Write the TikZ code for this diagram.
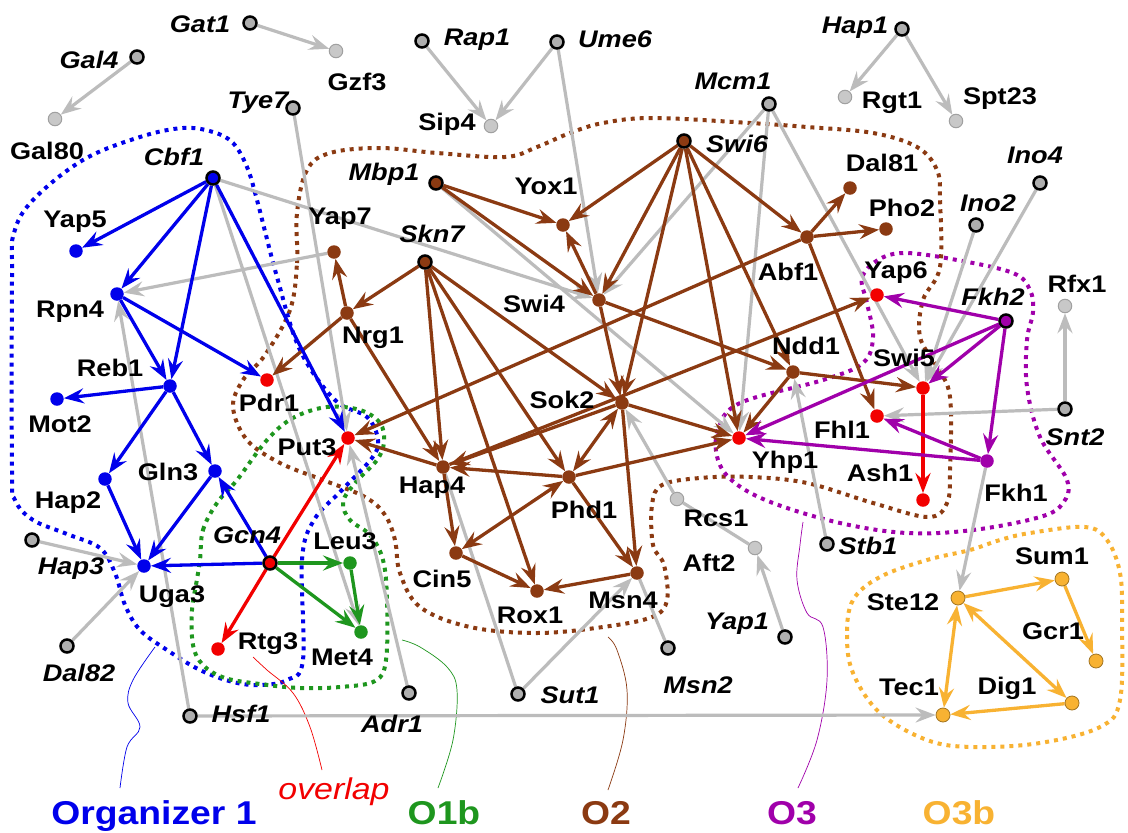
\documentclass[tikz,border=0pt]{standalone}
\usepackage{fontspec}
\setmainfont{Liberation Sans}[FakeStretch=1.13]
\usetikzlibrary{arrows.meta}
\definecolor{cblue}{RGB}{0,0,235}
\definecolor{cbrown}{RGB}{139,58,18}
\definecolor{cred}{RGB}{242,0,0}
\definecolor{cgreen}{RGB}{30,150,30}
\definecolor{cpurple}{RGB}{160,0,170}
\definecolor{corange}{RGB}{248,178,50}
\definecolor{cgray}{RGB}{188,188,188}
\definecolor{cgfill}{RGB}{175,175,175}
\definecolor{ctfill}{RGB}{200,200,200}
\definecolor{ctdraw}{RGB}{160,160,160}
\pgfdeclarelayer{bg}
\pgfdeclarelayer{edges}
\pgfsetlayers{bg,edges,main}
\tikzset{
  reg/.style={circle, draw=black, line width=2.5pt, minimum size=13pt, inner sep=0pt},
  tg/.style={circle, minimum size=13.5pt, inner sep=0pt},
  greg/.style={reg, fill=cgfill},
  gtg/.style={tg, fill=ctfill, draw=ctdraw, line width=1pt},
  btg/.style={tg, fill=cblue},
  rtg/.style={tg, fill=cred},
  ntg/.style={tg, fill=cbrown},
  gntg/.style={tg, fill=cgreen},
  ptg/.style={tg, fill=cpurple},
  otg/.style={tg, fill=corange, draw=corange!65!black, line width=0.8pt, minimum size=14pt},
  lab/.style={font=\fontsize{24}{24}\selectfont\bfseries, inner sep=0pt, text height=17pt, text depth=0pt, anchor=center},
  ilab/.style={lab, font=\fontsize{24}{24}\selectfont\bfseries\itshape},
  leg/.style={font=\fontsize{33}{33}\selectfont\bfseries, inner sep=0pt, text height=24pt, text depth=0pt, anchor=center},
  ge/.style={draw=cgray, line width=3.2pt, ->},
  gl/.style={draw=cgray, line width=3.2pt},
  be/.style={draw=cblue, line width=3.3pt, ->},
  re/.style={draw=cred, line width=3.3pt, ->},
  ne/.style={draw=cbrown, line width=3.3pt, ->},
  gre/.style={draw=cgreen, line width=3.3pt, ->},
  pe/.style={draw=cpurple, line width=3.3pt, ->},
  oe/.style={draw=corange, line width=3.3pt, ->},
  oe2/.style={draw=corange, line width=3.3pt, <->},
  grp/.style={line width=4pt, dash pattern=on 4pt off 5pt},
  ptr/.style={line width=0.7pt},
}
\begin{document}
\begin{tikzpicture}[x=1pt,y=-1pt, >={Stealth[length=20pt,width=15pt,inset=7pt]}]
\useasboundingbox (0,0) rectangle (1128,833);
\begin{pgfonlayer}{bg}
\fill[white] (0,0) rectangle (1128,833);
\end{pgfonlayer}

% ---------- nodes ----------
% gray regulators
\node[greg] (Gat1) at (250,23) {};
\node[greg] (Gal4) at (137,57) {};
\node[greg] (Tye7) at (293,108) {};
\node[greg] (Rap1) at (422,41) {};
\node[greg] (Ume6) at (557,42) {};
\node[greg] (Mcm1) at (769,104) {};
\node[greg] (Hap1) at (902,29) {};
\node[greg] (Ino4) at (1040,183) {};
\node[greg] (Ino2) at (976,225) {};
\node[greg] (Snt2) at (1065,409) {};
\node[greg] (Stb1) at (827,544) {};
\node[greg] (Yap1) at (785,637) {};
\node[greg] (Msn2) at (668,648) {};
\node[greg] (Sut1) at (518,694) {};
\node[greg] (Adr1) at (409,693) {};
\node[greg] (Hsf1) at (190,716) {};
\node[greg] (Dal82) at (67,646) {};
\node[greg] (Hap3) at (32,540) {};
% gray targets
\node[gtg] (Gzf3) at (336,51) {};
\node[gtg] (Gal80) at (55,119) {};
\node[gtg] (Sip4) at (491,126) {};
\node[gtg] (Rgt1) at (845,97) {};
\node[gtg] (Spt23) at (956,121) {};
\node[gtg] (Rfx1) at (1065,306) {};
\node[gtg] (Rcs1) at (677,499) {};
\node[gtg] (Aft2) at (755,548) {};
% blue
\node[reg, fill=cblue] (Cbf1) at (213,178) {};
\node[btg] (Yap5) at (76,251) {};
\node[btg] (Rpn4) at (117,294) {};
\node[btg] (Reb1) at (170,386) {};
\node[btg] (Mot2) at (57,399) {};
\node[btg] (Gln3) at (215,471) {};
\node[btg] (Hap2) at (105,479) {};
\node[btg] (Uga3) at (144,566) {};
% red
\node[reg, fill=cred] (Gcn4) at (270,563) {};
\node[rtg] (Pdr1) at (267,380) {};
\node[rtg] (Put3) at (348,438) {};
\node[rtg] (Rtg3) at (218,649) {};
\node[rtg] (Yap6) at (877,295) {};
\node[rtg] (Swi5) at (923,388) {};
\node[rtg] (Fhl1) at (877,416) {};
\node[rtg] (Ash1) at (923,500) {};
\node[rtg] (Yhp1) at (739,438) {};
% green
\node[gntg] (Leu3) at (350,563) {};
\node[gntg] (Met4) at (361,632) {};
% brown
\node[reg, fill=cbrown] (Mbp1) at (436,183) {};
\node[reg, fill=cbrown] (Swi6) at (684,141) {};
\node[reg, fill=cbrown] (Skn7) at (425,262) {};
\node[ntg] (Yap7) at (334,252) {};
\node[ntg] (Yox1) at (563,225) {};
\node[ntg] (Dal81) at (850,188) {};
\node[ntg] (Pho2) at (886,229) {};
\node[ntg] (Abf1) at (807,237) {};
\node[ntg] (Swi4) at (599,300) {};
\node[ntg] (Nrg1) at (347,313) {};
\node[ntg] (Ndd1) at (793,372) {};
\node[ntg] (Sok2) at (622,403) {};
\node[ntg] (Hap4) at (443,467) {};
\node[ntg] (Phd1) at (569,477) {};
\node[ntg] (Cin5) at (456,553) {};
\node[ntg] (Rox1) at (537,591) {};
\node[ntg] (Msn4) at (637,573) {};
% purple
\node[reg, fill=cpurple] (Fkh2) at (1006,321) {};
\node[ptg] (Fkh1) at (987,461) {};
% orange
\node[otg] (Ste12) at (958,598) {};
\node[otg] (Sum1) at (1062,579) {};
\node[otg] (Gcr1) at (1096,661) {};
\node[otg] (Tec1) at (943,715) {};
\node[otg] (Dig1) at (1072,703) {};

% ---------- labels ----------
\node[ilab] (lGat1) at (200,24) {Gat1};
\node[ilab] (lGal4) at (89,60) {Gal4};
\node[ilab] (lTye7) at (258,100) {Tye7};
\node[ilab] (lCbf1) at (174,157) {Cbf1};
\node[ilab] (lRap1) at (477,37) {Rap1};
\node[ilab] (lUme6) at (615,39) {Ume6};
\node[ilab] (lMcm1) at (733,81) {Mcm1};
\node[ilab] (lHap1) at (855,25) {Hap1};
\node[ilab] (lMbp1) at (384,172) {Mbp1};
\node[ilab] (lSwi6) at (737,144) {Swi6};
\node[ilab] (lSkn7) at (432,234) {Skn7};
\node[ilab] (lIno4) at (1035,155) {Ino4};
\node[ilab] (lIno2) at (988,203) {Ino2};
\node[ilab] (lFkh2) at (993,297) {Fkh2};
\node[ilab] (lSnt2) at (1075,437) {Snt2};
\node[ilab] (lStb1) at (868,546) {Stb1};
\node[ilab] (lYap1) at (737,621) {Yap1};
\node[ilab] (lMsn2) at (698,685) {Msn2};
\node[ilab] (lSut1) at (570,695) {Sut1};
\node[ilab] (lAdr1) at (392,724) {Adr1};
\node[ilab] (lHsf1) at (241,714) {Hsf1};
\node[ilab] (lDal82) at (79,673) {Dal82};
\node[ilab] (lHap3) at (71,566) {Hap3};
\node[ilab] (lGcn4) at (247,535) {Gcn4};
\node[lab] (lGzf3) at (357,82) {Gzf3};
\node[lab] (lGal80) at (47,151) {Gal80};
\node[lab] (lSip4) at (447,122) {Sip4};
\node[lab] (lRgt1) at (892,100) {Rgt1};
\node[lab] (lSpt23) at (1000,96) {Spt23};
\node[lab] (lDal81) at (882,163) {Dal81};
\node[lab] (lPho2) at (902,208) {Pho2};
\node[lab] (lYap7) at (340,216) {Yap7};
\node[lab] (lYox1) at (546,186) {Yox1};
\node[lab] (lYap5) at (75,219) {Yap5};
\node[lab] (lRpn4) at (70,309) {Rpn4};
\node[lab] (lReb1) at (110,368) {Reb1};
\node[lab] (lMot2) at (60,424) {Mot2};
\node[lab] (lGln3) at (168,472) {Gln3};
\node[lab] (lHap2) at (68,500) {Hap2};
\node[lab] (lUga3) at (172,594) {Uga3};
\node[lab] (lPdr1) at (269,403) {Pdr1};
\node[lab] (lPut3) at (307,447) {Put3};
\node[lab] (lNrg1) at (373,335) {Nrg1};
\node[lab] (lSwi4) at (534,304) {Swi4};
\node[lab] (lAbf1) at (788,272) {Abf1};
\node[lab] (lSok2) at (562,400) {Sok2};
\node[lab] (lHap4) at (432,485) {Hap4};
\node[lab] (lPhd1) at (584,510) {Phd1};
\node[lab] (lNdd1) at (806,346) {Ndd1};
\node[lab] (lYap6) at (896,270) {Yap6};
\node[lab] (lRfx1) at (1077,284) {Rfx1};
\node[lab] (lSwi5) at (904,358) {Swi5};
\node[lab] (lFhl1) at (842,430) {Fhl1};
\node[lab] (lYhp1) at (785,460) {Yhp1};
\node[lab] (lAsh1) at (880,473) {Ash1};
\node[lab] (lFkh1) at (1016,493) {Fkh1};
\node[lab] (lRcs1) at (716,518) {Rcs1};
\node[lab] (lAft2) at (709,563) {Aft2};
\node[lab] (lCin5) at (442,579) {Cin5};
\node[lab] (lRox1) at (530,615) {Rox1};
\node[lab] (lMsn4) at (623,600) {Msn4};
\node[lab] (lLeu3) at (345,541) {Leu3};
\node[lab] (lMet4) at (342,657) {Met4};
\node[lab] (lRtg3) at (268,641) {Rtg3};
\node[lab] (lSte12) at (903,602) {Ste12};
\node[lab] (lSum1) at (1052,556) {Sum1};
\node[lab] (lGcr1) at (1053,631) {Gcr1};
\node[lab] (lTec1) at (909,687) {Tec1};
\node[lab] (lDig1) at (1007,686) {Dig1};

% legend
\node[leg, text=cblue] (legO1) at (154,812) {Organizer 1};
\node[inner sep=0pt, text height=21pt, text depth=0pt, text=cred, font=\fontsize{30}{30}\selectfont\itshape] (legOv) at (334,789) {overlap};
\node[leg, text=cgreen] (legO1b) at (444,812) {O1b};
\node[leg, text=cbrown] (legO2) at (606,812) {O2};
\node[leg, text=cpurple] (legO3) at (792,812) {O3};
\node[leg, text=corange] (legO3b) at (959,812) {O3b};

% ---------- group outlines ----------
\begin{pgfonlayer}{bg}
\draw[grp, cbrown] plot[smooth cycle, tension=0.6] coordinates {
 (290,310) (297,263) (297,213) (307,170) (330,153) (380,148) (437,153) (505,157)
 (537,147) (570,133) (603,123) (653,118) (750,123) (807,127) (873,133) (917,147)
 (937,170) (940,200) (940,267) (923,300) (920,337) (937,367) (950,397) (950,470)
 (947,503) (928,517) (873,503) (807,483) (750,477) (700,478) (662,485) (652,505)
 (653,545) (664,565) (667,600) (652,617) (603,627) (537,633) (470,627) (420,607)
 (400,573) (395,540) (385,515) (365,497) (323,480) (280,463) (247,440) (233,407)
 (243,380) (265,355)};
\draw[grp, cblue] plot[smooth cycle, tension=0.6] coordinates {
 (12,470) (12,277) (14,233) (33,200) (83,160) (140,137) (183,128) (213,132)
 (233,143) (247,167) (257,200) (277,277) (300,350) (335,400) (367,417) (378,440)
 (372,458) (342,490) (314,520) (302,560) (303,660) (287,680) (260,685) (233,682)
 (200,670) (167,650) (140,630) (125,605) (115,573) (100,548) (67,534) (33,520) (15,500)};
\draw[grp, cgreen] plot[smooth cycle, tension=0.6] coordinates {
 (200,560) (203,530) (217,503) (237,480) (267,440) (293,418) (327,407) (360,410)
 (380,423) (384,442) (377,460) (356,482) (343,502) (350,520) (370,535) (383,560)
 (387,600) (386,660) (375,681) (340,687) (300,688) (260,684) (225,678) (203,665)
 (193,645) (192,610) (196,585)};
\draw[grp, cpurple] plot[smooth cycle, tension=0.6] coordinates {
 (740,403) (823,380) (863,363) (873,337) (867,303) (862,278) (878,260) (905,253)
 (957,260) (1013,273) (1030,290) (1033,312) (1027,340) (1027,387) (1040,437)
 (1067,480) (1063,503) (1040,517) (973,530) (907,533) (840,523) (773,503)
 (735,483) (718,460) (718,430)};
\draw[grp, corange] plot[smooth cycle, tension=0.6] coordinates {
 (853,600) (847,635) (853,673) (880,713) (927,740) (973,747) (1040,743)
 (1100,727) (1120,700) (1122,620) (1120,573) (1107,540) (1085,527) (1030,533)
 (1000,540) (970,550) (927,560) (880,577)};
% pointers
\draw[ptr, cblue] plot[smooth, tension=0.6] coordinates {(120,788) (127,747) (140,727) (128,703) (133,680) (155,647)};
\draw[ptr, cred] plot[smooth, tension=0.6] coordinates {(322,770) (310,727) (293,693) (267,670) (253,657)};
\draw[ptr, cgreen] plot[smooth, tension=0.6] coordinates {(438,788) (453,740) (457,690) (447,667) (420,647) (402,640)};
\draw[ptr, cbrown] plot[smooth, tension=0.6] coordinates {(608,790) (623,740) (627,690) (617,650) (608,637)};
\draw[ptr, cpurple] plot[smooth, tension=0.6] coordinates {(798,788) (817,740) (827,680) (823,627) (807,613) (797,580) (800,545) (803,522)};
\end{pgfonlayer}

% ---------- edges ----------
\begin{pgfonlayer}{edges}
% gray
\draw[ge] (Gat1) -- (Gzf3);
\draw[ge] (Gal4) -- (Gal80);
\draw[ge] (Rap1) -- (Sip4);
\draw[ge] (Ume6) -- (Sip4);
\draw[ge] (Ume6) -- (Swi4);
\draw[ge] (Hap1) -- (Rgt1);
\draw[ge] (Hap1) -- (Spt23);
\draw[ge] (Tye7) -- (Put3);
\draw[ge] (Cbf1) -- (Swi4);
\draw[ge] (Cbf1) -- (Met4);
\draw[ge] (Yap7) -- (Rpn4);
\draw[ge] (Hsf1) -- (Rpn4);
\draw[ge] (Hsf1) -- (Tec1);
\draw[ge] (Hap3) -- (Uga3);
\draw[ge] (Dal82) -- (Uga3);
\draw[ge] (Adr1) -- (Put3);
\draw[gl] (Sut1) -- (Hap4);
\draw[ge] (Sut1) -- (Msn4);
\draw[gl] (Msn2) -- (Msn4);
\draw[ge] (Rcs1) -- (Sok2);
\draw[gl] (Rcs1) -- (Aft2);
\draw[ge] (Yap1) -- (Aft2);
\draw[ge] (Mbp1) -- (Yhp1);
\draw[ge] (Mcm1) -- (Swi4);
\draw[ge] (Mcm1) -- (Yhp1);
\draw[ge] (Mcm1) -- (Swi5);
\draw[ge] (Ino2) -- (Swi5);
\draw[ge] (Ino4) -- (Swi5);
\draw[ge] (Snt2) -- (Fhl1);
\draw[ge] (Snt2) -- (Rfx1);
\draw[ge] (Stb1) -- (Ndd1);
\draw[ge] (Fkh1) -- (Ste12);
% brown
\draw[ne] (Swi6) -- (Yox1);
\draw[ne] (Swi6) -- (Swi4);
\draw[ne] (Swi6) -- (Abf1);
\draw[ne] (Swi6) -- (Sok2);
\draw[ne] (Swi6) -- (Yhp1);
\draw[ne] (Swi6) -- (Ndd1);
\draw[ne] (Mbp1) -- (Yox1);
\draw[ne] (Mbp1) -- (Swi4);
\draw[ne] (Swi4) -- (Yox1);
\draw[ne] (Skn7) -- (Nrg1);
\draw[ne] (Skn7) -- (Hap4);
\draw[ne] (Skn7) -- (Rox1);
\draw[ne] (Skn7) -- (Phd1);
\draw[ne] (Skn7) -- (Sok2);
\draw[ne] (Nrg1) -- (Yap7);
\draw[ne] (Nrg1) -- (Pdr1);
\draw[ne] (Nrg1) -- (Hap4);
\draw[ne] (Swi4) -- (Sok2);
\draw[ne] (Swi4) -- (Ndd1);
\draw[ne] (Abf1) -- (Dal81);
\draw[ne] (Abf1) -- (Pho2);
\draw[ne] (Abf1) -- (Fhl1);
\draw[ne] (Abf1) -- (Put3);
\draw[ne] (Ndd1) -- (Swi5);
\draw[ne] (Ndd1) -- (Yhp1);
\draw[ne] (Sok2) -- (Hap4);
\draw[ne, <->] (Sok2) -- (Phd1);
\draw[ne] (Sok2) -- (Yhp1);
\draw[ne] (Sok2) -- (Msn4);
\draw[ne] (Hap4) -- (Yap6);
\draw[ne] (Hap4) -- (Put3);
\draw[ne] (Hap4) -- (Cin5);
\draw[ne] (Phd1) -- (Hap4);
\draw[ne] (Phd1) -- (Yhp1);
\draw[ne] (Phd1) -- (Msn4);
\draw[ne, <->] (Phd1) -- (Cin5);
\draw[ne] (Cin5) -- (Rox1);
\draw[ne] (Msn4) -- (Rox1);
% blue
\draw[be] (Cbf1) -- (Yap5);
\draw[be] (Cbf1) -- (Rpn4);
\draw[be] (Cbf1) -- (Reb1);
\draw[be] (Cbf1) -- (Put3);
\draw[be] (Rpn4) -- (Reb1);
\draw[be] (Rpn4) -- (Pdr1);
\draw[be] (Reb1) -- (Mot2);
\draw[be] (Reb1) -- (Hap2);
\draw[be] (Reb1) -- (Gln3);
\draw[be] (Hap2) -- (Uga3);
\draw[be] (Gln3) -- (Uga3);
\draw[be] (Gcn4) -- (Gln3);
\draw[be] (Gcn4) -- (Uga3);
% green
\draw[gre] (Gcn4) -- (Leu3);
\draw[gre] (Gcn4) -- (Met4);
\draw[gre] (Leu3) -- (Met4);
% red
\draw[re] (Gcn4) -- (Put3);
\draw[re] (Gcn4) -- (Rtg3);
\draw[re] (Swi5) -- (Ash1);
% purple
\draw[pe] (Fkh2) -- (Yap6);
\draw[pe] (Fkh2) -- (Swi5);
\draw[pe] (Fkh2) -- (Yhp1);
\draw[pe] (Fkh2) -- (Fkh1);
\draw[pe] (Fkh1) -- (Fhl1);
\draw[pe] (Fkh1) -- (Yhp1);
% orange
\draw[oe] (Ste12) -- (Sum1);
\draw[oe] (Sum1) -- (Gcr1);
\draw[oe2] (Ste12) -- (Tec1);
\draw[oe2] (Ste12) -- (Dig1);
\draw[oe] (Dig1) -- (Tec1);
\end{pgfonlayer}
\end{tikzpicture}
\end{document}
